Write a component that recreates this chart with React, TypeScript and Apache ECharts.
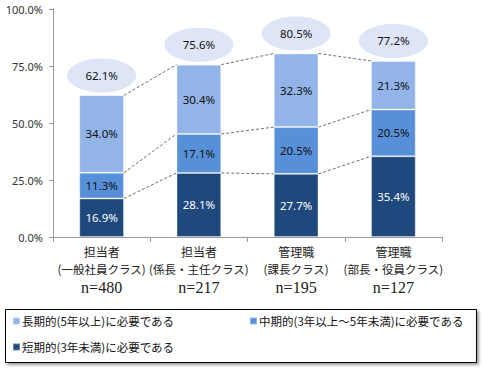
import React, { useEffect, useRef } from "react";
import * as echarts from "echarts";

const catLine1 = ["担当者", "担当者", "管理職", "管理職"];
const catLine2 = ["(一般社員クラス)", "(係長・主任クラス)", "(課長クラス)", "(部長・役員クラス)"];
const catN = ["n=480", "n=217", "n=195", "n=127"];

const shortTerm = [16.9, 28.1, 27.7, 35.4];
const midTerm = [11.3, 17.1, 20.5, 20.5];
const longTerm = [34.0, 30.4, 32.3, 21.3];
const totals = [62.1, 75.6, 80.5, 77.2];

const yTicks = [0, 25, 50, 75, 100];

const nameLong = "長期的(5年以上)に必要である";
const nameMid = "中期的(3年以上～5年未満)に必要である";
const nameShort = "短期的(3年未満)に必要である";

const cLong = "#93B4E8";
const cMid = "#5790D8";
const cShort = "#1F497D";

const JP = '"Noto Sans CJK JP", "Noto Sans", sans-serif';
const NUM = '"Noto Sans", "Noto Sans CJK JP", sans-serif';

export default function App() {
  const ref = useRef<HTMLDivElement>(null);
  useEffect(() => {
    if (!ref.current) return;
    const chart = echarts.init(ref.current, null, { renderer: "svg" });
    const cum1 = shortTerm;
    const cum2 = shortTerm.map((v, i) => v + midTerm[i]);
    const cum3 = totals;
    const levels = [cum1, cum2, cum3];
    const pct = (v: number) => v.toFixed(1) + "%";
    const barLabel = (color: string) => ({
      show: true,
      position: "inside",
      formatter: (p: any) => pct(p.value),
      color,
      fontSize: 11.5,
      fontFamily: NUM,
    });
    const legendCommon = {
      icon: "rect",
      itemWidth: 7,
      itemHeight: 7,
      padding: 0,
      selectedMode: false,
      textStyle: { fontSize: 11.5, fontFamily: JP, color: "#111", lineHeight: 14, padding: [0, 0, 0, -3] },
    };
    chart.setOption({
      animation: false,
      grid: { left: 53, right: 41, top: 9, bottom: 134 },
      graphic: [
        {
          type: "rect",
          z: 1,
          shape: { x: 5.5, y: 309.5, width: 471, height: 53 },
          style: {
            fill: "#fff",
            stroke: "#000",
            lineWidth: 1,
            shadowBlur: 3,
            shadowOffsetX: 2,
            shadowOffsetY: 2,
            shadowColor: "rgba(0,0,0,0.4)",
          },
        },
      ],
      legend: [
        { ...legendCommon, data: [nameLong], left: 12, top: 314 },
        { ...legendCommon, data: [nameMid], left: 249, top: 314 },
        { ...legendCommon, data: [nameShort], left: 12, top: 340 },
      ],
      xAxis: {
        type: "category",
        data: catN.map((n, i) => i),
        axisLine: { show: true, lineStyle: { color: "#9a9a9a" } },
        axisTick: { show: true, length: 5, lineStyle: { color: "#9a9a9a" } },
        axisLabel: {
          margin: 6,
          interval: 0,
          formatter: (v: any, i: number) =>
            `{a|${catLine1[i]}}\n{b|${catLine2[i]}}\n{n|${catN[i]}}`,
          rich: {
            a: { fontSize: 12, fontFamily: JP, color: "#222", lineHeight: 17 },
            b: { fontSize: 11.5, fontFamily: JP, color: "#222", lineHeight: 17 },
            n: {
              fontSize: 16,
              fontFamily: '"Liberation Serif", "DejaVu Serif", serif',
              color: "#222",
              lineHeight: 20,
            },
          },
        },
      },
      yAxis: {
        type: "value",
        min: 0,
        max: 100,
        interval: 25,
        axisLine: { show: true, lineStyle: { color: "#9a9a9a" } },
        axisTick: { show: true, length: 4, lineStyle: { color: "#9a9a9a" } },
        splitLine: { show: false },
        axisLabel: {
          margin: 10,
          formatter: (v: number) => (yTicks.includes(v) ? pct(v) : ""),
          fontSize: 11,
          fontFamily: NUM,
          color: "#333",
        },
      },
      series: [
        {
          name: nameShort,
          type: "bar",
          stack: "s",
          barWidth: "46%",
          data: shortTerm,
          itemStyle: { color: cShort, borderColor: "rgba(255,255,255,0.35)", borderWidth: 1 },
          label: barLabel("#fff"),
        },
        {
          name: nameMid,
          type: "bar",
          stack: "s",
          barWidth: "46%",
          data: midTerm,
          itemStyle: { color: cMid, borderColor: "rgba(255,255,255,0.35)", borderWidth: 1 },
          label: barLabel("#111"),
        },
        {
          name: nameLong,
          type: "bar",
          stack: "s",
          barWidth: "46%",
          data: longTerm,
          itemStyle: { color: cLong, borderColor: "rgba(255,255,255,0.35)", borderWidth: 1 },
          label: barLabel("#111"),
        },
        {
          type: "custom",
          silent: true,
          z: 3,
          data: [0, 1, 2].map((i) => [i, 0]),
          encode: { x: 0, y: 1 },
          renderItem: (params: any, api: any) => {
            const i = api.value(0);
            const half = (api.size([1, 0])[0] * 0.46) / 2;
            const children = levels.map((lv) => {
              const p1 = api.coord([i, lv[i]]);
              const p2 = api.coord([i + 1, lv[i + 1]]);
              return {
                type: "line",
                shape: { x1: p1[0] + half, y1: p1[1], x2: p2[0] - half, y2: p2[1] },
                style: { stroke: "#6f6f6f", lineWidth: 1, lineDash: [3, 2] },
              };
            });
            return { type: "group", children };
          },
        },
        {
          type: "custom",
          silent: true,
          z: 4,
          data: totals.map((t, i) => [i, t]),
          encode: { x: 0, y: 1 },
          renderItem: (params: any, api: any) => {
            const p = api.coord([api.value(0), api.value(1)]);
            const cx = p[0];
            const cy = p[1] - 20;
            return {
              type: "group",
              children: [
                {
                  type: "ellipse",
                  shape: { cx, cy, rx: 34.5, ry: 17 },
                  style: { fill: "#DDE5F7" },
                },
                {
                  type: "text",
                  style: {
                    text: pct(api.value(1)),
                    x: cx,
                    y: cy,
                    align: "center",
                    verticalAlign: "middle",
                    fontSize: 11.5,
                    fontFamily: NUM,
                    fill: "#111",
                  },
                },
              ],
            };
          },
        },
      ],
    });
    return () => chart.dispose();
  }, []);
  return (
    <div
      ref={ref}
      style={{ position: "fixed", left: 0, top: 0, width: 483, height: 371, background: "#fff" }}
    />
  );
}
